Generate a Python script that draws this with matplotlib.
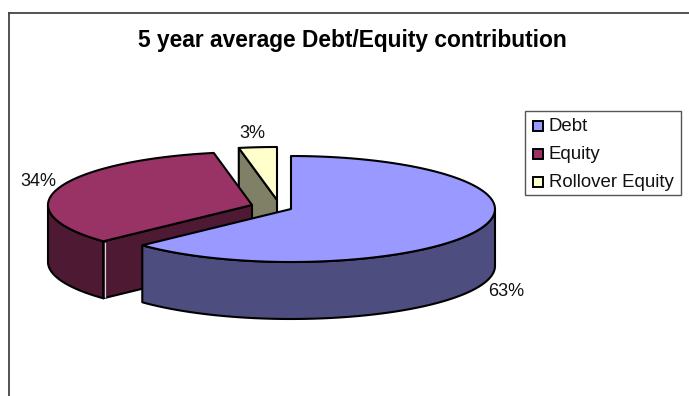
import numpy as np
import matplotlib
matplotlib.use("Agg")
import matplotlib.pyplot as plt
from matplotlib.patches import Rectangle

labels = ["Debt", "Equity", "Rollover Equity"]
values = [63, 34, 3]
top_colors = ["#9999ff", "#993366", "#ffffcc"]
side_colors = ["#4d4d80", "#4d1933", "#808066"]

# pixel position of each slice's centre, the slices are pulled apart
centers = [(291, 209), (252, 205), (277, 200)]
rx = 204
ry = 53
depth = 57

plt.rcParams["font.family"] = ["Liberation Sans", "DejaVu Sans"]

fig = plt.figure(figsize=(6.89, 3.96), dpi=100)
ax = fig.add_axes([0, 0, 1, 1])
ax.set_xlim(0, 689)
ax.set_ylim(396, 0)
ax.axis("off")


def rim(c, a0, a1):
    # angles are clockwise from 12 o'clock
    t = np.radians(np.linspace(a0, a1, 120))
    return c[0] + rx * np.sin(t), c[1] - ry * np.cos(t)


def wall(xs, ys, color):
    px = np.concatenate([xs, xs[::-1]])
    py = np.concatenate([ys, ys[::-1] + depth])
    ax.fill(px, py, facecolor=color, edgecolor="black", lw=1.5, joinstyle="round")


# slice angles from the values
edges = np.cumsum([0] + values) * 3.6
slices = [(i, edges[i], edges[i + 1]) for i in range(len(values))]

# back slices first so the front ones cover them
for i, a0, a1 in [slices[2], slices[1], slices[0]]:
    c = centers[i]
    xs, ys = rim(c, a0, a1)

    if a1 > 180:
        # outer wall, only the part that faces the viewer
        lo = max(a0, 90)
        hi = min(a1, 270)
        if hi > lo:
            wx, wy = rim(c, lo, hi)
            wall(wx, wy, side_colors[i])

    # cut faces
    if i == 1:
        wall(np.array([xs[0], c[0]]), np.array([ys[0], c[1]]), side_colors[i])
        ax.plot([xs[0] + 1.5, xs[0] + 1.5], [ys[0] + 2, ys[0] + depth - 1],
                color="#d8d0d4", lw=0.9)
    if i == 2:
        wall(np.array([xs[0], c[0]]), np.array([ys[0], c[1]]), side_colors[i])

    ax.fill(np.concatenate([[c[0]], xs]), np.concatenate([[c[1]], ys]),
            facecolor=top_colors[i], edgecolor="black", lw=1.5, joinstyle="round")

ax.text(352.5, 40, "5 year average Debt/Equity contribution", fontsize=16.4,
        fontweight="bold", ha="center", va="center", color="black")

# percentage labels
ax.text(506, 291, f"{values[0]}%", fontsize=13, ha="center", va="center", color="#111111")
ax.text(38, 182, f"{values[1]}%", fontsize=13, ha="center", va="center", color="#111111")
ax.text(252.5, 133, f"{values[2]}%", fontsize=13, ha="center", va="center", color="#111111")

# legend box
ax.add_patch(Rectangle((524.5, 111), 156, 84, facecolor="white", edgecolor="#555555", lw=1))
for k, name in enumerate(labels):
    y = 126 + k * 28.2
    ax.add_patch(Rectangle((532.5, y - 5), 10, 10, facecolor=top_colors[k], edgecolor="black", lw=1.4))
    ax.text(549, y + 0.5, name, fontsize=13.4, ha="left", va="center", color="#111111")

# chart frame
ax.plot([8.5, 8.5], [396, 13], color="#444444", lw=1.3)
ax.plot([8.5, 689], [13, 13], color="#444444", lw=1.3)

fig.savefig("out.png", dpi=100, facecolor="white")
